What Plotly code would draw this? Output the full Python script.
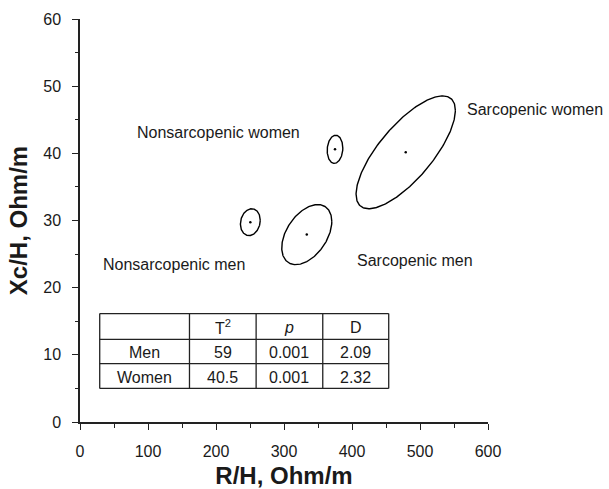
import numpy as np
import plotly.graph_objects as go

# ---- data ----
groups = ["Nonsarcopenic men", "Sarcopenic men", "Nonsarcopenic women", "Sarcopenic women"]
center_r = [250.5, 333.5, 375.0, 479.0]      # R/H mean
center_xc = [29.75, 27.9, 40.6, 40.15]       # Xc/H mean
half_r = [14.6, 36.8, 11.5, 73.0]            # ellipse half-range on R/H
half_xc = [2.0, 4.47, 2.1, 8.4]              # ellipse half-range on Xc/H
tilt_deg = [82, 64, 85, 42]                  # phase angle (correlation = cos)

label_r = [138.4, 492.0, 204.1, 669.8]
label_xc = [23.5, 24.1, 43.1, 46.5]

table_header = ["", "T<sup>2</sup>", "<i>p</i>", "D"]
table_rows = ["Men", "Women"]
table_T2 = ["59", "40.5"]
table_p = ["0.001", "0.001"]
table_D = ["2.09", "2.32"]

X_RANGE = [0, 600]
Y_RANGE = [0, 60]

FONT = "Liberation Sans, Arial, sans-serif"
TXT = "#1a1a1a"

fig = go.Figure()
t = np.linspace(0, 2 * np.pi, 241)
for i, g in enumerate(groups):
    ph = np.deg2rad(tilt_deg[i])
    ex = center_r[i] + half_r[i] * np.cos(t)
    ey = center_xc[i] + half_xc[i] * np.cos(t - ph)
    fig.add_trace(go.Scatter(x=ex, y=ey, mode="lines", line=dict(color="black", width=1.4),
                             hoverinfo="skip", showlegend=False, name=g))
fig.add_trace(go.Scatter(x=center_r, y=center_xc, mode="markers",
                         marker=dict(color="black", size=2.5), showlegend=False, name="means"))

for i, g in enumerate(groups):
    px_ = (label_r[i] - X_RANGE[0]) / (X_RANGE[1] - X_RANGE[0])
    py_ = (label_xc[i] - Y_RANGE[0]) / (Y_RANGE[1] - Y_RANGE[0])
    fig.add_annotation(x=px_, y=py_, xref="paper", yref="paper", text=g, showarrow=False,
                       font=dict(family=FONT, size=16, color=TXT), xanchor="center", yanchor="middle")

# ---- table ----
col_edges = [29.0, 161.0, 259.0, 357.0, 454.0]
row_edges = [16.15, 12.3, 8.7, 5.0]
for xe in col_edges:
    fig.add_shape(type="line", xref="x", yref="y", x0=xe, x1=xe, y0=row_edges[0], y1=row_edges[-1],
                  line=dict(color="#222", width=1.3))
for ye in row_edges:
    fig.add_shape(type="line", xref="x", yref="y", x0=col_edges[0], x1=col_edges[-1], y0=ye, y1=ye,
                  line=dict(color="#222", width=1.3))

cells = [table_header] + [[table_rows[k], table_T2[k], table_p[k], table_D[k]] for k in range(2)]
for r, row in enumerate(cells):
    yc = (row_edges[r] + row_edges[r + 1]) / 2 - 0.15
    for c, txt in enumerate(row):
        if not txt:
            continue
        xc = (col_edges[c] + col_edges[c + 1]) / 2
        fig.add_annotation(x=xc, y=yc, xref="x", yref="y", text=txt, showarrow=False,
                           font=dict(family=FONT, size=16, color=TXT), xanchor="center", yanchor="middle")

axis_common = dict(showline=True, linecolor="#222", linewidth=1.5, ticks="outside", ticklen=6,
                   tickwidth=1.3, tickcolor="#222", showgrid=False, zeroline=False,
                   tickfont=dict(family=FONT, size=16, color=TXT))

fig.update_xaxes(range=X_RANGE, tickvals=[0, 100, 200, 300, 400, 500, 600],
                 minor=dict(dtick=50, ticks="outside", ticklen=4, tickwidth=1.3, tickcolor="#222"),
                 ticklabelstandoff=8,
                 title=dict(text="<b>R/H, Ohm/m</b>", font=dict(family=FONT, size=24, color=TXT), standoff=22),
                 **axis_common)
fig.update_yaxes(range=Y_RANGE, tickvals=[0, 10, 20, 30, 40, 50, 60],
                 minor=dict(dtick=5, ticks="outside", ticklen=3, tickwidth=1.3, tickcolor="#222"),
                 ticklabelstandoff=8,
                 title=dict(text="<b>Xc/H, Ohm/m</b>", font=dict(family=FONT, size=24, color=TXT), standoff=9),
                 **axis_common)

fig.update_layout(width=609, height=489, margin=dict(l=80, r=121, t=19, b=67, autoexpand=False),
                  plot_bgcolor="white", paper_bgcolor="white", showlegend=False)

fig.write_html("out.html", config={"displayModeBar": False},
               post_script="document.body.style.margin='0';document.body.style.overflow='hidden';")
